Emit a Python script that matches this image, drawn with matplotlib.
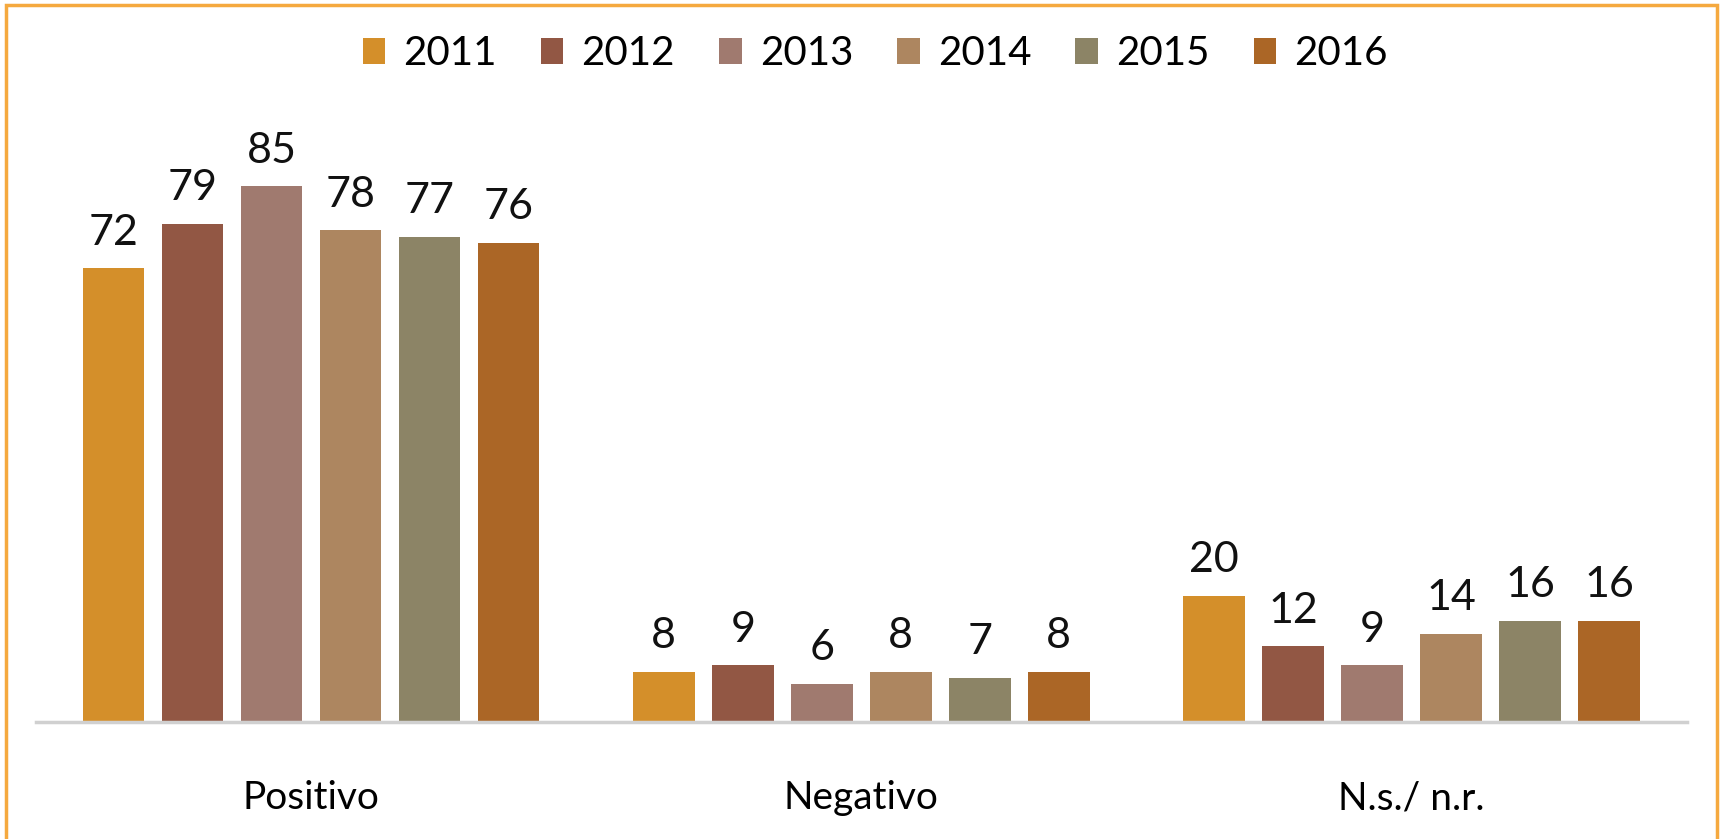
import matplotlib.pyplot as plt
import matplotlib.patches as mpatches
import numpy as np

plt.rcParams['font.family'] = ['Lato', 'DejaVu Sans']

# data
categories = ["Positivo", "Negativo", "N.s./ n.r."]
years = ["2011", "2012", "2013", "2014", "2015", "2016"]
values = {
    "2011": [72, 8, 20],
    "2012": [79, 9, 12],
    "2013": [85, 6, 9],
    "2014": [78, 8, 14],
    "2015": [77, 7, 16],
    "2016": [76, 8, 16],
}
colors = ["#D48F2A", "#925744", "#A07A6F", "#AD8660", "#8C8466", "#AB6626"]

fig = plt.figure(figsize=(17.23, 8.39), dpi=100)
ax = fig.add_axes([0.0209, 0.1395, 0.958, 0.676])

x = np.arange(len(categories))
step = 0.1436
width = 0.112

for i, yr in enumerate(years):
    pos = x + (i - 2.5) * step
    bars = ax.bar(pos, values[yr], width=width, color=colors[i], label=yr, zorder=2)
    ax.bar_label(bars, padding=12, fontsize=31, color="#111111")

ax.set_xlim(-0.5, 2.5)
ax.set_ylim(0, 90)
ax.set_yticks([])
ax.set_xticks(x)
ax.set_xticklabels(categories, fontsize=28)
ax.tick_params(axis="x", length=0, pad=42)
for s in ["top", "right", "left"]:
    ax.spines[s].set_visible(False)
ax.spines["bottom"].set_color("#D0D0D0")
ax.spines["bottom"].set_linewidth(2.5)

leg = fig.legend(loc="center", bbox_to_anchor=(0.508, 0.936), ncol=6, frameon=False,
                 fontsize=29, handlelength=0.55, handleheight=0.6,
                 handletextpad=0.45, columnspacing=1.1)

# orange frame round the chart
frame = mpatches.Rectangle((6 / 1723, -0.05), (1717 - 6) / 1723, 1.05 - 5 / 839,
                           transform=fig.transFigure, fill=False,
                           edgecolor="#F5A93F", linewidth=2.5, zorder=0)
fig.patches.append(frame)

fig.savefig("out.png", dpi=100)
